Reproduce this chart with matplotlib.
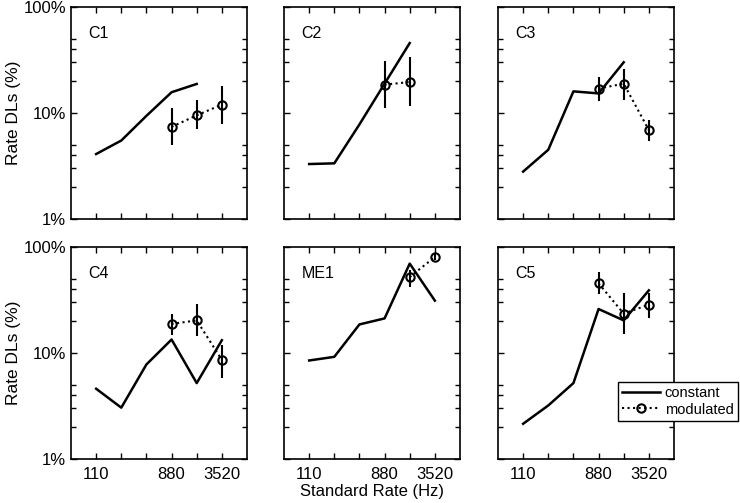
import matplotlib
matplotlib.use("Agg")
import matplotlib.pyplot as plt
from matplotlib.ticker import FixedLocator, NullFormatter, FixedFormatter

plt.rcParams['font.family'] = ['Liberation Sans', 'DejaVu Sans']

# === Data ===
rates = [110, 220, 440, 880, 1760, 3520]
mod_rates = [880, 1760, 3520]
names = ["C1", "C2", "C3", "C4", "ME1", "C5"]

const_c1 = [4.1, 5.5, 9.4, 15.7, 18.8, None]
const_c2 = [3.3, 3.35, 7.8, 18.9, 45.7, None]
const_c3 = [2.8, 4.5, 16.0, 15.3, 30.1, None]
const_c4 = [4.6, 3.05, 7.8, 13.4, 5.2, 13.2]
const_me1 = [8.5, 9.2, 18.6, 21.2, 69.7, 31.2]
const_c5 = [2.15, 3.2, 5.2, 26.0, 20.3, 39.0]

mod_c1 = [7.4, 9.5, 12.0]
mod_c2 = [18.5, 19.6, None]
mod_c3 = [17.0, 18.9, 6.9]
mod_c4 = [18.8, 20.3, 8.6]
mod_me1 = [None, 52.1, 80.5]
mod_c5 = [45.4, 23.5, 28.6]

lo_c1 = [5.0, 7.0, 7.9]
hi_c1 = [11.1, 13.2, 18.1]
lo_c2 = [11.1, 11.6, None]
hi_c2 = [31.2, 33.7, None]
lo_c3 = [13.1, 13.4, 5.4]
hi_c3 = [21.7, 26.2, 8.65]
lo_c4 = [14.9, 14.4, 5.8]
hi_c4 = [23.5, 29.0, 12.0]
lo_me1 = [None, 42.0, 74.9]
hi_me1 = [None, 61.1, 86.5]
lo_c5 = [36.0, 15.2, 21.4]
hi_c5 = [57.7, 36.8, 36.8]

const_all = [const_c1, const_c2, const_c3, const_c4, const_me1, const_c5]
mod_all = [mod_c1, mod_c2, mod_c3, mod_c4, mod_me1, mod_c5]
lo_all = [lo_c1, lo_c2, lo_c3, lo_c4, lo_me1, lo_c5]
hi_all = [hi_c1, hi_c2, hi_c3, hi_c4, hi_me1, hi_c5]

# === Figure ===
fig = plt.figure(figsize=(7.4, 5.03), dpi=100)
lefts = [71 / 740, 284 / 740, 498 / 740]
bottoms = [1 - 219 / 503, 1 - 459 / 503]
w = 176 / 740
h = 212 / 503

handles = None
for i in range(6):
    row, col = divmod(i, 3)
    ax = fig.add_axes([lefts[col], bottoms[row], w, h])
    ax.set_xscale('log', base=2)
    ax.set_yscale('log')

    cx = [r for r, v in zip(rates, const_all[i]) if v is not None]
    cy = [v for v in const_all[i] if v is not None]
    l1, = ax.plot(cx, cy, '-', color='black', lw=1.8, label='constant')

    mx, my, elo, ehi = [], [], [], []
    for r, v, lo, hi in zip(mod_rates, mod_all[i], lo_all[i], hi_all[i]):
        if v is None:
            continue
        mx.append(r)
        my.append(v)
        elo.append(v - lo)
        ehi.append(hi - v)
    l2, = ax.plot(mx, my, ':', color='black', lw=1.5, marker='o', markersize=6,
                  markerfacecolor='none', markeredgewidth=1.5, label='modulated')
    ax.errorbar(mx, my, yerr=[elo, ehi], fmt='none', ecolor='black',
                elinewidth=1.5, capsize=0)
    handles = [l1, l2]

    ax.set_xlim(55, 7040)
    ax.set_ylim(1, 100)
    ax.xaxis.set_major_locator(FixedLocator(rates))
    ax.xaxis.set_minor_locator(FixedLocator([]))
    ax.yaxis.set_major_locator(FixedLocator([1, 10, 100]))
    ax.yaxis.set_minor_locator(FixedLocator([2, 3, 4, 5, 20, 30, 40, 50]))
    ax.yaxis.set_minor_formatter(NullFormatter())
    ax.tick_params(which='both', direction='in', top=True, right=True,
                   labelsize=12, width=1)
    ax.tick_params(which='major', length=4.5)
    ax.tick_params(which='minor', length=3.5)
    ax.tick_params(axis='x', pad=6)
    for s in ax.spines.values():
        s.set_linewidth(1.2)

    if row == 1:
        ax.xaxis.set_major_formatter(FixedFormatter(['110', '', '', '880', '', '3520']))
    else:
        ax.xaxis.set_major_formatter(NullFormatter())
    if col == 0:
        ax.yaxis.set_major_formatter(FixedFormatter(['1%', '10%', '100%']))
        ax.set_ylabel('Rate DLs (%)', fontsize=12.5, labelpad=2)
    else:
        ax.yaxis.set_major_formatter(NullFormatter())
    if row == 1 and col == 1:
        ax.set_xlabel('Standard Rate (Hz)', fontsize=12, labelpad=1)

    ax.text(0.1, 0.875, names[i], transform=ax.transAxes, fontsize=11.5,
            ha='left', va='center')

leg = fig.legend(handles, ['constant', 'modulated'], loc='upper left',
                 bbox_to_anchor=(618 / 740, 1 - 382 / 503), fontsize=10.5,
                 frameon=True, fancybox=False, handlelength=2.6,
                 borderpad=0.3, labelspacing=0.15, handletextpad=0.3,
                 borderaxespad=0)
leg.get_frame().set_edgecolor('black')
leg.get_frame().set_linewidth(1)
leg.get_frame().set_alpha(1)

fig.savefig('out.png', dpi=100)
